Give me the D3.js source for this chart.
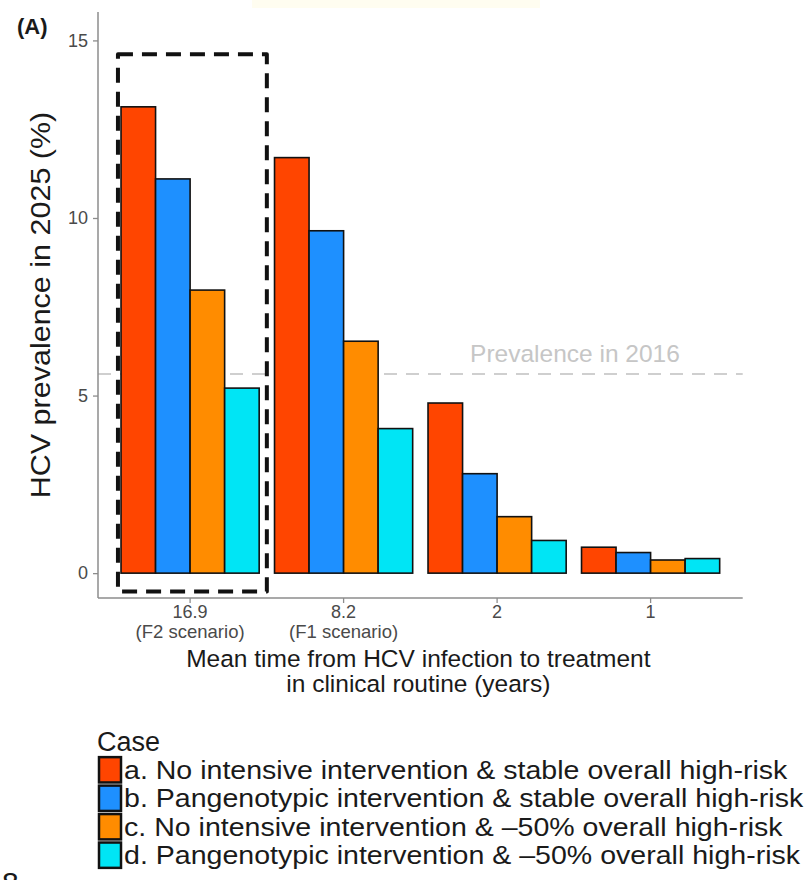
<!DOCTYPE html>
<html>
<head>
<meta charset="utf-8">
<script src="https://cdn.jsdelivr.net/npm/d3@7"></script>
<style>
  html, body { margin: 0; padding: 0; background: #ffffff; }
  svg { display: block; font-family: "Liberation Sans", Arial, Helvetica, sans-serif; }
</style>
</head>
<body>
<svg id="chart" width="811" height="880"></svg>
<script>
// Mean time from infection to treatment (x categories)
const categories = ["16.9", "8.2", "2", "1"];
const categorySubLabels = ["(F2 scenario)", "(F1 scenario)", "", ""];

// Legend entries (fill groups)
const cases = [
  "a. No intensive intervention & stable overall high-risk",
  "b. Pangenotypic intervention & stable overall high-risk",
  "c. No intensive intervention & \u201350% overall high-risk",
  "d. Pangenotypic intervention & \u201350% overall high-risk"
];
const caseColors = ["#FF4500", "#1E90FF", "#FF8C00", "#00E5F5"];

// HCV prevalence in 2025 (%) per case, one value per category
const caseA = [13.13, 11.70, 4.79, 0.73];
const caseB = [11.10, 9.64, 2.80, 0.58];
const caseC = [7.97, 6.53, 1.59, 0.37];
const caseD = [5.21, 4.07, 0.92, 0.41];
const seriesValues = [caseA, caseB, caseC, caseD];

// Reference level
const prevalence2016 = 5.61;
const prevalenceLabel = "Prevalence in 2016";

// Highlight box around the F2 scenario group (category offsets, prevalence units)
const boxCategory = "16.9";
const boxX = [-0.47, 0.5];
const boxY = [-0.52, 14.61];

const yTicks = [0, 5, 10, 15];

const svg = d3.select("#chart");
const plot = { left: 98, right: 742.7, top: 12, bottom: 598 };

const x = d3.scaleBand()
  .domain(categories)
  .range([plot.left, plot.right])
  .paddingInner(0.1)
  .paddingOuter(0.15);

const xInner = d3.scaleBand()
  .domain(d3.range(cases.length))
  .range([0, x.bandwidth()])
  .padding(0);

const y = d3.scaleLinear()
  .domain([-0.70, 15.8])
  .range([plot.bottom, plot.top]);

const step = x.step();
const center = c => x(c) + x.bandwidth() / 2;

// faint highlight strip along the top edge
svg.append("rect")
  .attr("x", 252).attr("y", 0).attr("width", 288).attr("height", 8)
  .attr("fill", "#fffdf0");

// reference line
svg.append("line")
  .attr("x1", plot.left).attr("x2", plot.right)
  .attr("y1", y(prevalence2016)).attr("y2", y(prevalence2016))
  .attr("stroke", "#cfcfcf").attr("stroke-width", 2)
  .attr("stroke-dasharray", "13,9");

svg.append("text")
  .attr("x", 575).attr("y", y(prevalence2016) - 12)
  .attr("text-anchor", "middle")
  .attr("font-size", 24.5)
  .attr("fill", "#c6c6c6")
  .text(prevalenceLabel);

// bars
const barData = [];
categories.forEach((c, i) => {
  seriesValues.forEach((vals, k) => {
    barData.push({ cat: c, k, value: vals[i] });
  });
});

svg.append("g").selectAll("rect")
  .data(barData)
  .join("rect")
  .attr("x", d => x(d.cat) + xInner(d.k))
  .attr("width", xInner.bandwidth())
  .attr("y", d => y(d.value))
  .attr("height", d => y(0) - y(d.value))
  .attr("fill", d => caseColors[d.k])
  .attr("stroke", "#111")
  .attr("stroke-width", 1.6);

// dashed highlight box
const bx0 = center(boxCategory) + boxX[0] * step;
const bx1 = center(boxCategory) + boxX[1] * step;
svg.append("rect")
  .attr("x", bx0).attr("y", y(boxY[1]))
  .attr("width", bx1 - bx0).attr("height", y(boxY[0]) - y(boxY[1]))
  .attr("fill", "none")
  .attr("stroke", "#111").attr("stroke-width", 4)
  .attr("stroke-dasharray", "15,9")
  .attr("stroke-linejoin", "round");

// axes
const axisColor = "#8c8c8c";
const yAxis = svg.append("g")
  .attr("transform", `translate(${plot.left},0)`)
  .call(d3.axisLeft(y).tickValues(yTicks).tickSize(5).tickPadding(5));
yAxis.select(".domain").attr("stroke", axisColor).attr("stroke-width", 1.5)
  .attr("d", `M0,${plot.top}V${plot.bottom}`);
yAxis.selectAll(".tick line").attr("stroke", axisColor).attr("stroke-width", 1.3);
yAxis.selectAll(".tick text")
  .attr("font-size", 18).attr("fill", "#4a4a4a")
  .attr("font-family", "Liberation Sans, Arial, sans-serif");

const xAxis = svg.append("g")
  .attr("transform", `translate(0,${plot.bottom})`)
  .call(d3.axisBottom(x).tickSize(5).tickPadding(3));
xAxis.select(".domain").attr("stroke", axisColor).attr("stroke-width", 1.5)
  .attr("d", `M${plot.left},0H${plot.right}`);
xAxis.selectAll(".tick line").attr("stroke", axisColor).attr("stroke-width", 1.3);
xAxis.selectAll(".tick text").remove();
xAxis.selectAll(".tick").each(function (c, i) {
  const t = d3.select(this);
  t.append("text")
    .attr("y", 20).attr("text-anchor", "middle")
    .attr("font-size", 18).attr("fill", "#4a4a4a")
    .attr("font-family", "Liberation Sans, Arial, sans-serif")
    .text(c);
  if (categorySubLabels[i]) {
    t.append("text")
      .attr("y", 40).attr("text-anchor", "middle")
      .attr("font-size", 18.5).attr("fill", "#4a4a4a")
      .attr("font-family", "Liberation Sans, Arial, sans-serif")
      .text(categorySubLabels[i]);
  }
});

// axis titles
const xMid = (plot.left + plot.right) / 2 - 2;
const xTitle = svg.append("text")
  .attr("text-anchor", "middle")
  .attr("font-size", 24.5).attr("fill", "#1a1a1a");
xTitle.append("tspan").attr("x", xMid).attr("y", 667)
  .text("Mean time from HCV infection to treatment");
xTitle.append("tspan").attr("x", xMid).attr("y", 692)
  .text("in clinical routine (years)");

svg.append("text")
  .attr("transform", `translate(50,${(plot.top + plot.bottom) / 2}) rotate(-90) scale(1.13,1)`)
  .attr("text-anchor", "middle")
  .attr("font-size", 27).attr("fill", "#1a1a1a")
  .text("HCV prevalence in 2025 (%)");

// panel tag
svg.append("text")
  .attr("x", 17).attr("y", 34)
  .attr("font-size", 22).attr("font-weight", "bold").attr("fill", "#1a1a1a")
  .text("(A)");

// legend
const legend = svg.append("g").attr("transform", "translate(97,0)");
legend.append("text")
  .attr("x", 0).attr("y", 751)
  .attr("font-size", 27).attr("fill", "#1a1a1a")
  .text("Case");

const rowY = d3.scaleBand().domain(d3.range(cases.length)).range([755, 870]).padding(0.04);
const rows = legend.selectAll("g.row")
  .data(cases)
  .join("g")
  .attr("class", "row")
  .attr("transform", (d, i) => `translate(0,${rowY(i)})`);
rows.append("rect")
  .attr("x", 2).attr("y", 1)
  .attr("width", 22).attr("height", rowY.bandwidth() - 2)
  .attr("fill", (d, i) => caseColors[i])
  .attr("stroke", "#111").attr("stroke-width", 2.5);
rows.append("text")
  .attr("transform", `translate(27,${rowY.bandwidth() / 2 + 9}) scale(1.12,1)`)
  .attr("font-size", 25.5).attr("fill", "#1a1a1a")
  .text(d => d);

// caption digit partly visible at the lower left edge
svg.append("text")
  .attr("x", 2).attr("y", 893)
  .attr("font-size", 30).attr("fill", "#1a1a1a")
  .text("8");
</script>
</body>
</html>
